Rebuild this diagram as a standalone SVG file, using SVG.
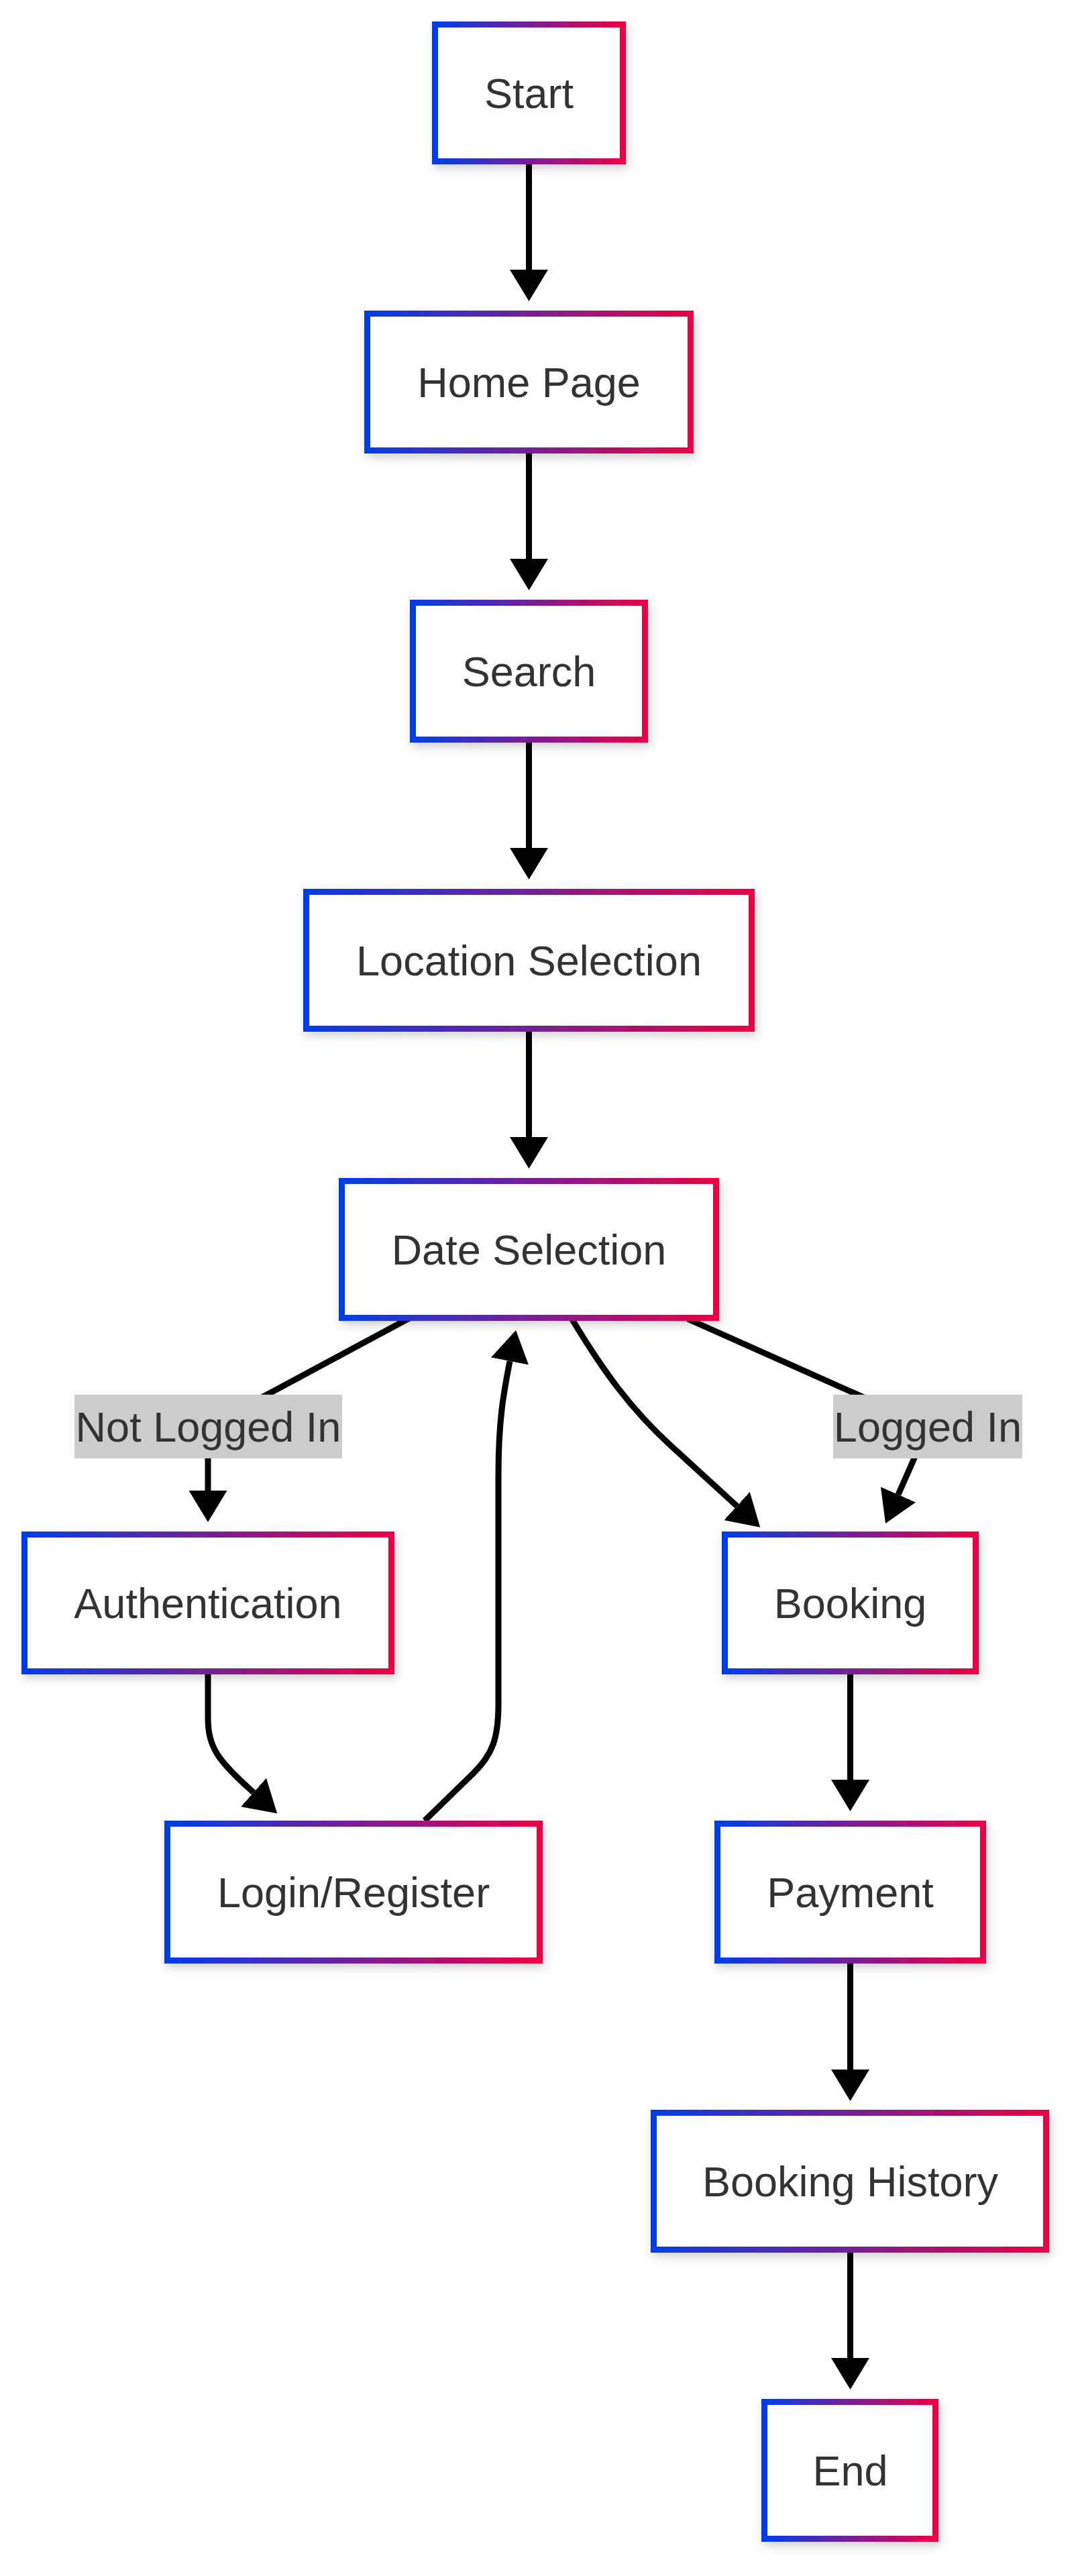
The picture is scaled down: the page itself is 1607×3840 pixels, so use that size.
<svg xmlns="http://www.w3.org/2000/svg" width="1607" height="3840" viewBox="0 0 1607 3840">
<style>
.box{fill:#ffffff;stroke:url(#grad);stroke-width:9;filter:url(#shadow)}
.lbl{font-family:"Liberation Sans",Arial,Helvetica,sans-serif;font-size:63px;fill:#333333;text-anchor:middle}
.edge{fill:none;stroke:#000000;stroke-width:9;marker-end:url(#arrow)}
.elbg{fill:#cccccc}
</style>
<defs>
<linearGradient id="grad" x1="0" y1="0" x2="1" y2="0">
<stop offset="0" stop-color="#003ee9"/>
<stop offset="1" stop-color="#ec0044"/>
</linearGradient>
<filter id="shadow" x="-20%" y="-30%" width="140%" height="170%">
<feDropShadow dx="3" dy="6" stdDeviation="7" flood-color="#000000" flood-opacity="0.18"/>
</filter>
<marker id="arrow" viewBox="0 0 47 57" refX="0" refY="28.5" markerWidth="47" markerHeight="57" markerUnits="userSpaceOnUse" orient="auto">
<path d="M0,0 L47,28.5 L0,57 Z" fill="#000000"/>
</marker>
</defs>
<rect width="1607" height="3840" fill="#ffffff"/>
<g id="connectors">
<path class="edge" d="M788.5,245 L788.5,402"/>
<path class="edge" d="M788.5,676 L788.5,833"/>
<path class="edge" d="M788.5,1107 L788.5,1264"/>
<path class="edge" d="M788.5,1538 L788.5,1695"/>
<path class="edge" d="M612,1964 L318,2122 Q310,2127 310,2140 L310,2222"/>
<path class="edge" d="M1025,1966 L1375,2122 Q1383,2127 1380,2135 L1339,2228"/>
<path class="edge" d="M853,1967 C900,2045 940,2100 1000,2155 L1098.5,2245"/>
<path class="edge" d="M310,2496 L310,2560 C310,2605 325,2625 378,2672"/>
<path class="edge" d="M633,2714 L705,2644 C735,2615 743,2590 743,2540 L743,2200 C743,2120 750,2080 760,2029"/>
<path class="edge" d="M1267.5,2496 L1267.5,2653"/>
<path class="edge" d="M1267.5,2927 L1267.5,3085"/>
<path class="edge" d="M1267.5,3358 L1267.5,3515"/>
</g>
<g id="edge-labels">
<g id="label-not-logged-in">
<rect class="elbg" x="111" y="2079" width="399" height="95"/>
<text class="lbl" x="310.5" y="2148.5">Not Logged In</text>
</g>
<g id="label-logged-in">
<rect class="elbg" x="1242" y="2079" width="282" height="95"/>
<text class="lbl" x="1383" y="2148.5">Logged In</text>
</g>
</g>
<g id="node-start">
<rect class="box" x="648.5" y="36.5" width="280" height="204"/>
<text class="lbl" x="788.5" y="160.5">Start</text>
</g>
<g id="node-home">
<rect class="box" x="547.5" y="467.5" width="482" height="204"/>
<text class="lbl" x="788.5" y="591.5">Home Page</text>
</g>
<g id="node-search">
<rect class="box" x="615.5" y="898.5" width="346" height="204"/>
<text class="lbl" x="788.5" y="1022.5">Search</text>
</g>
<g id="node-location">
<rect class="box" x="456.5" y="1329.5" width="664" height="204"/>
<text class="lbl" x="788.5" y="1453.5">Location Selection</text>
</g>
<g id="node-date">
<rect class="box" x="509.5" y="1760.5" width="558" height="204"/>
<text class="lbl" x="788.5" y="1884.5">Date Selection</text>
</g>
<g id="node-auth">
<rect class="box" x="36.5" y="2287.5" width="547" height="204"/>
<text class="lbl" x="310" y="2411.5">Authentication</text>
</g>
<g id="node-booking">
<rect class="box" x="1080.5" y="2287.5" width="374" height="204"/>
<text class="lbl" x="1267.5" y="2411.5">Booking</text>
</g>
<g id="node-login">
<rect class="box" x="249.5" y="2718.5" width="555" height="204"/>
<text class="lbl" x="527" y="2842.5">Login/Register</text>
</g>
<g id="node-payment">
<rect class="box" x="1069.5" y="2718.5" width="396" height="204"/>
<text class="lbl" x="1267.5" y="2842.5">Payment</text>
</g>
<g id="node-history">
<rect class="box" x="974.5" y="3149.5" width="585" height="204"/>
<text class="lbl" x="1267.5" y="3273.5">Booking History</text>
</g>
<g id="node-end">
<rect class="box" x="1139.5" y="3580.5" width="255" height="204"/>
<text class="lbl" x="1267.5" y="3704.5">End</text>
</g>
</svg>
